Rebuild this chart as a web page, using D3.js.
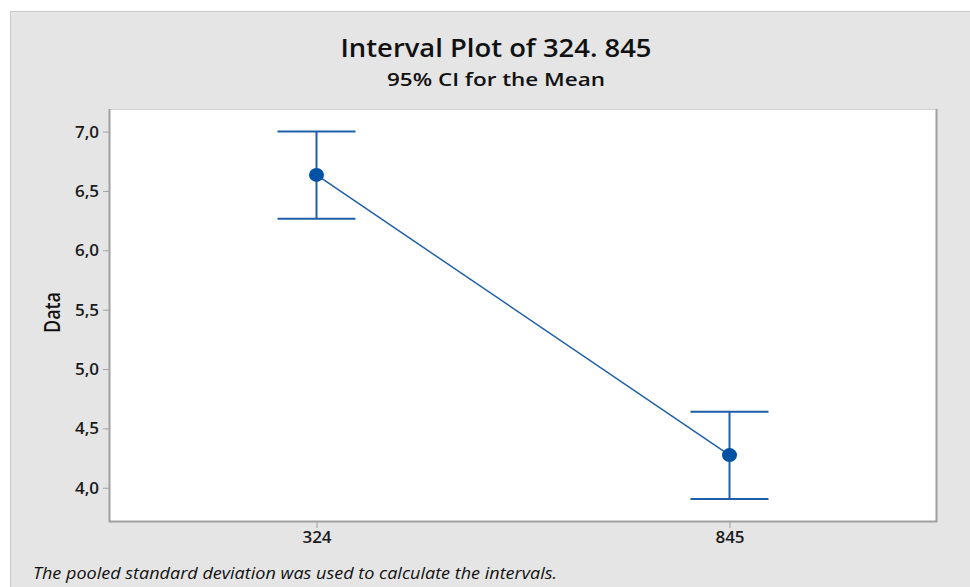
<!DOCTYPE html>
<html><head><meta charset="utf-8">
<script src="https://cdn.jsdelivr.net/npm/d3@7"></script>
<style>body{margin:0;background:#fff;}svg{display:block;}</style>
</head><body><svg id="c" width="970" height="587"></svg>
<script>
const categories = ["324", "845"];
const means = [6.635, 4.275];
const lower = [6.265, 3.905];
const upper = [7.0, 4.64];
const yTicks = [4.0, 4.5, 5.0, 5.5, 6.0, 6.5, 7.0];

const W = 970, H = 587;
const m = {left: 110, right: 936, top: 109, bottom: 521};
const svg = d3.select("#c");
const font = "'Open Sans', 'Noto Sans', sans-serif";

svg.append("rect").attr("x", 10.5).attr("y", 11.5).attr("width", W).attr("height", H)
  .attr("fill", "#e5e5e5").attr("stroke", "#c9c9c9").attr("stroke-width", 1);

const x = d3.scalePoint().domain(categories).range([m.left, m.right]).padding(0.5);
const y = d3.scaleLinear().domain([3.72, 7.19]).range([m.bottom, m.top]);

svg.append("rect").attr("x", m.left).attr("y", m.top).attr("width", m.right - m.left)
  .attr("height", m.bottom - m.top).attr("fill", "#fff");
svg.append("line").attr("x1", m.left).attr("x2", m.right).attr("y1", m.top + 0.5).attr("y2", m.top + 0.5)
  .attr("stroke", "#d0d0d0");
svg.append("path").attr("d", `M${m.left - 0.5},${m.top}V${m.bottom + 0.5}H${m.right + 0.5}V${m.top}`)
  .attr("fill", "none").attr("stroke", "#a0a0a0").attr("stroke-width", 2);

const yAxis = d3.axisLeft(y).tickValues(yTicks).tickSize(6).tickPadding(4)
  .tickFormat(d => d3.format(".1f")(d).replace(".", ","));
const gy = svg.append("g").attr("transform", `translate(${m.left - 1},0)`).call(yAxis);
gy.select(".domain").remove();
gy.selectAll(".tick line").attr("stroke", "#a0a0a0");
gy.selectAll(".tick text").attr("font-family", font).attr("font-size", 17).attr("font-weight", 600).attr("fill", "#1a1a1a");

const xAxis = d3.axisBottom(x).tickSize(6).tickPadding(3);
const gx = svg.append("g").attr("transform", `translate(0,${m.bottom + 1})`).call(xAxis);
gx.select(".domain").remove();
gx.selectAll(".tick line").attr("stroke", "#a0a0a0");
gx.selectAll(".tick text").attr("font-family", font).attr("font-size", 17).attr("font-weight", 600).attr("fill", "#1a1a1a");

const col = "#1f5fa8", dot = "#0052a5";
const data = categories.map((c, i) => ({c, mean: means[i], lo: lower[i], hi: upper[i]}));
const capW = 39;
data.forEach(d => {
  const cx = x(d.c);
  svg.append("line").attr("x1", cx).attr("x2", cx).attr("y1", y(d.lo)).attr("y2", y(d.hi))
    .attr("stroke", col).attr("stroke-width", 2);
  [d.lo, d.hi].forEach(v => svg.append("line").attr("x1", cx - capW).attr("x2", cx + capW)
    .attr("y1", y(v)).attr("y2", y(v)).attr("stroke", col).attr("stroke-width", 2));
});
svg.append("path").datum(data).attr("fill", "none").attr("stroke", col).attr("stroke-width", 1.5)
  .attr("d", d3.line().x(d => x(d.c)).y(d => y(d.mean)));
svg.selectAll("ellipse.pt").data(data).enter().append("ellipse").attr("class", "pt")
  .attr("cx", d => x(d.c)).attr("cy", d => y(d.mean)).attr("rx", 7.5).attr("ry", 7).attr("fill", dot);

svg.append("text").attr("x", 496).attr("y", 57).attr("text-anchor", "middle")
  .attr("font-family", font).attr("font-size", 25).attr("font-weight", 600).attr("fill", "#111")
  .attr("textLength", 311).attr("lengthAdjust", "spacingAndGlyphs")
  .text("Interval Plot of 324. 845");
svg.append("text").attr("x", 496).attr("y", 86).attr("text-anchor", "middle")
  .attr("font-family", font).attr("font-size", 18.5).attr("font-weight", 600).attr("fill", "#111")
  .attr("textLength", 218).attr("lengthAdjust", "spacingAndGlyphs")
  .text("95% CI for the Mean");
svg.append("text").attr("transform", "translate(60,312.5) rotate(-90)").attr("text-anchor", "middle")
  .attr("font-family", font).attr("font-size", 22).attr("font-weight", 600).attr("fill", "#111")
  .attr("textLength", 41).attr("lengthAdjust", "spacingAndGlyphs")
  .text("Data");
svg.append("text").attr("x", 33).attr("y", 579)
  .attr("font-family", font).attr("font-size", 17).attr("font-style", "italic").attr("fill", "#111")
  .attr("textLength", 524).attr("lengthAdjust", "spacingAndGlyphs")
  .text("The pooled standard deviation was used to calculate the intervals.");
</script></body></html>
